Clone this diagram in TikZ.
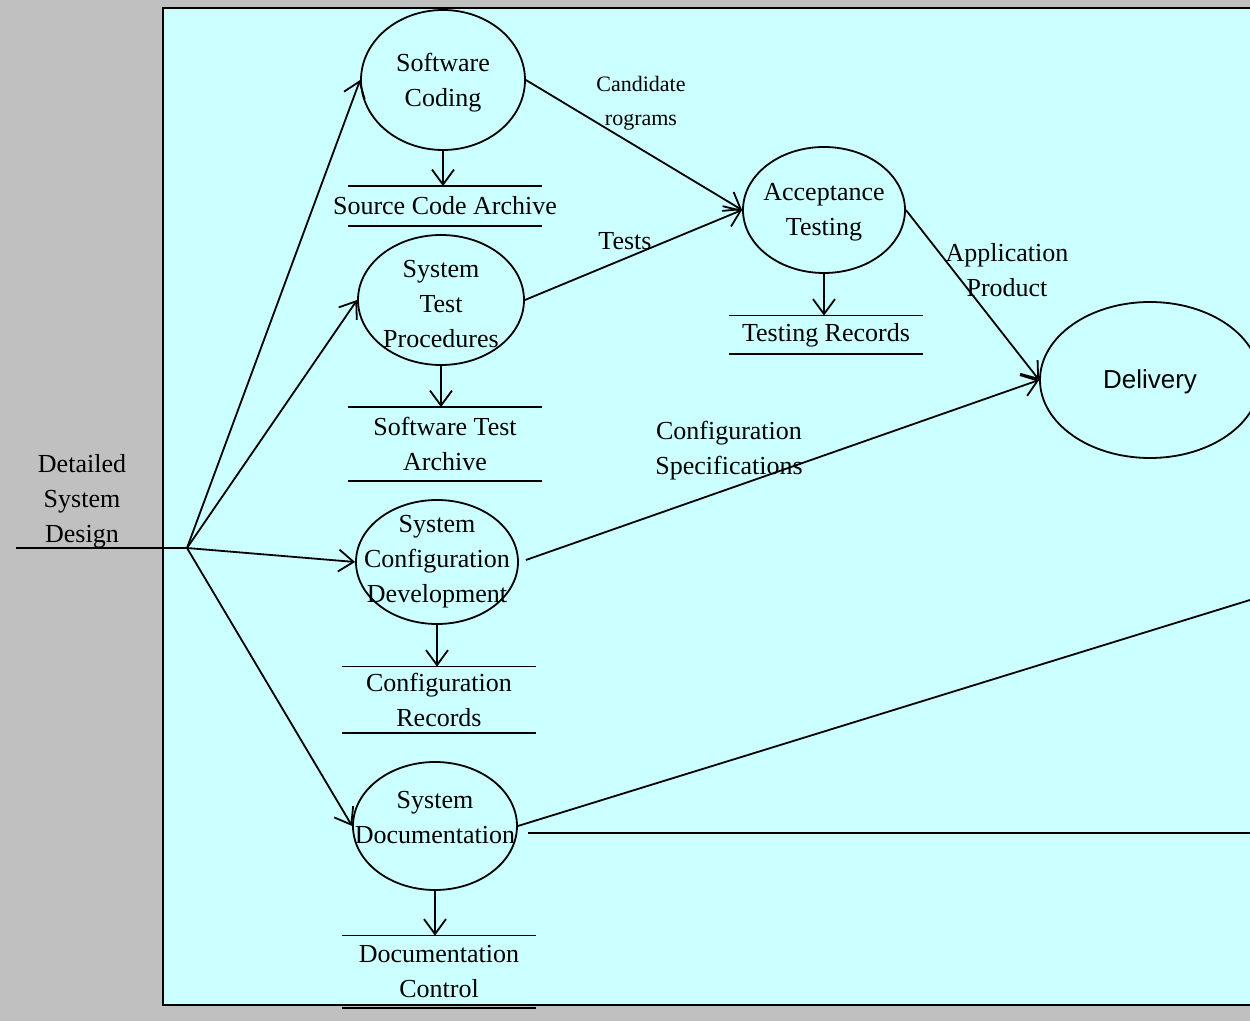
\documentclass[tikz,border=0pt]{standalone}
\usepackage{fontspec}
\setmainfont{Liberation Serif}
\newfontfamily\arialfont{Liberation Sans}
\usetikzlibrary{shapes.geometric}
\usetikzlibrary{arrows.meta}
\definecolor{paneback}{HTML}{CCFFFF}
\definecolor{outerback}{HTML}{C0C0C0}

\begin{document}
\begin{tikzpicture}[x=0.5pt,y=-0.5pt, line width=0.9pt,
font=\fontsize{13}{17.5}\selectfont,
proc/.style={ellipse, draw, inner sep=0pt, minimum width=82pt, minimum height=65pt},
store/.style={inner sep=0pt, minimum width=96pt,
  append after command={(\tikzlastnode.north west) edge (\tikzlastnode.north east)
  (\tikzlastnode.south west) edge (\tikzlastnode.south east)}},
flow/.style={-{Straight Barb[length=7.5pt,width=11pt]}},
every label/.style={align=center, inner sep=0pt},
small/.style={font=\fontsize{11}{17}\selectfont, align=center}]
\useasboundingbox (0,0) rectangle (1250,1021);
\clip (0,0) rectangle (1250,1021);
\fill[outerback] (0,0) rectangle (1250,1021);
\filldraw[fill=paneback, line width=1pt] (163,8) rectangle (1270,1005);

% processes
\node[proc, minimum height=70pt, label={[yshift=-1.5pt]center:Software\\Coding}] (sc) at (443,80) {};
\node[proc, minimum width=81pt, minimum height=63pt, label={[yshift=-1pt]center:Acceptance\\Testing}] (at) at (824,210) {};
\node[proc, minimum width=83pt, label={[yshift=-2pt]center:System\\Test\\Procedures}] (stp) at (441,300) {};
\node[proc, minimum width=81pt, minimum height=62pt, label={center:System\\Configuration\\Development}] (scd) at (437,562) {};
\node[proc, minimum height=64pt, label={[yshift=4pt]center:System\\Documentation}] (sd) at (435,826) {};
\node[proc, minimum width=110pt, minimum height=78pt, label={[yshift=-1pt]center:\arialfont Delivery}] (dl) at (1150,380) {};

% stores
\node[store, minimum height=19pt, label={center:Source Code Archive}] (sca) at (445,206) {};
\node[store, minimum height=36pt, label={center:Software Test\\Archive}] (sta) at (445,444) {};
\node[store, minimum height=18.5pt, label={center:Testing Records}] (tr) at (826,335) {};
\node[store, minimum height=32.5pt, label={center:Configuration\\Records}] (cr) at (439,700) {};
\node[store, minimum height=35.5pt, label={center:Documentation\\Control}] (dc) at (439,972) {};

% input
\node[align=center] (dsd) at (82,501) {Detailed\\System\\Design};
\coordinate (dsdl) at (16,548);
\coordinate (fan) at (187,548);
\coordinate (off1) at (1250,600);
\coordinate (off2) at (1250,833);
\coordinate (sdr) at ([xshift=5pt]sd.east);

\draw (dsdl) -- (fan);
\draw[flow] (fan) -- (sc.west);
\draw[flow] (fan) -- (stp.west);
\draw[flow] (fan) -- (scd.west);
\draw[flow] (fan) -- (sd.west);

\draw[flow] (sc.south) -- (sc.south |- sca.north);
\draw[flow] (stp.south) -- (stp.south |- sta.north);
\draw[flow] (scd.south) -- (scd.south |- cr.north);
\draw[flow] (sd.south) -- (sd.south |- dc.north);
\draw[flow] (at.south) -- (at.south |- tr.north);

\draw[flow] (sc.east) -- (at.west);
\draw[flow] (stp.east) -- (at.west);
\draw[flow] (at.east) -- (dl.west);
\draw[flow] ([shift={(3.5pt,1pt)}]scd.east) -- (dl.west);
\draw (sd.east) -- (off1);
\draw (sdr |- off2) -- (off2);

% flow labels
\node[small] (cp) at (641,103) {Candidate\\rograms};
\node (ts) at (625,241) {Tests};
\node[align=center] (ap) at (1007,270) {Application\\Product};
\node[align=center] (cs) at (729,451) {Configuration\\Specifications};
\end{tikzpicture}
\end{document}
